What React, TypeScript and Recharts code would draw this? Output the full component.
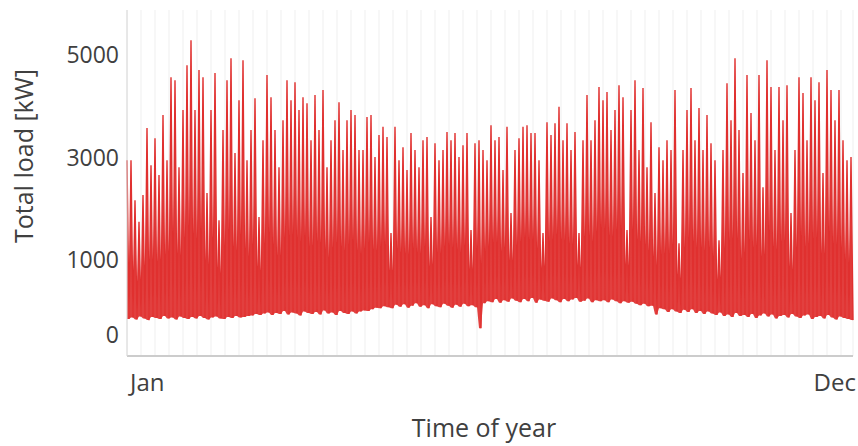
import { ComposedChart, Line, Area, XAxis, YAxis, CartesianGrid } from "recharts"

// daily-ish peaks and troughs of the hourly load (kW)
const peakLoad = [
  2950, 2950, 2170, 1750, 2270, 3580, 2850, 3380, 2660, 3830,
  2950, 4570, 4510, 2810, 3930, 4800, 5290, 3930, 4710, 4570,
  2310, 3930, 4650, 1780, 3540, 4510, 4940, 3090, 4120, 4900,
  2950, 3540, 4160, 1840, 3340, 4610, 4180, 3540, 2810, 3730,
  4510, 4120, 4470, 3930, 4180, 4060, 3340, 4220, 3540, 4320,
  2810, 3340, 3730, 4080, 3150, 3730, 3930, 3830, 3150, 3150,
  3790, 3830, 3010, 3440, 3600, 3400, 1530, 3600, 2950, 3200,
  2760, 3480, 3150, 2810, 3340, 3400, 1840, 3280, 2950, 3150,
  3500, 3340, 3480, 3010, 3240, 3480, 1590, 3280, 3340, 3150,
  2950, 3630, 3340, 3400, 2760, 3600, 1920, 3150, 3380, 3600,
  3630, 3480, 3480, 2950, 1530, 3690, 3440, 3670, 3990, 3340,
  3670, 3150, 3500, 1530, 3340, 4220, 3340, 3730, 4380, 4120,
  4280, 3540, 3930, 4410, 4180, 1590, 3930, 4510, 3150, 4360,
  2810, 3690, 2310, 3200, 2950, 3340, 3150, 4320, 1330, 3150,
  3930, 4360, 3340, 3970, 3150, 3830, 3280, 2950, 1390, 3150,
  4450, 3730, 4940, 3540, 2700, 4610, 3870, 3340, 4610, 2420,
  4900, 4380, 3150, 4380, 3730, 4410, 1920, 3150, 4570, 4260,
  3340, 4570, 4120, 4470, 2700, 4710, 4320, 3730, 4320, 3340,
  2950, 3010,
]

const troughLoad = [
  -150, -120, -160, -100, -140, -170, -110, -130, -150, -90,
  -140, -120, -160, -100, -130, -150, -110, -140, -90, -130,
  -160, -120, -100, -140, -150, -110, -130, -90, -120, -110,
  -90, -80, -50, -70, -40, -20, -70, -30, -50, 10,
  -60, -20, -40, -80, 0, -30, -50, -10, -60, 20,
  -40, -20, -70, 10, -30, -50, 0, -40, 0, 20,
  10, 40, 70, 60, 100, 80, 60, 130, 90, 140,
  70, 110, 160, 90, 120, 60, 140, 100, 80, 150,
  110, 70, 130, 90, 150, 100, 120, 80, -330, 160,
  200, 180, 240, 170, 220, 190, 250, 210, 180, 240,
  200, 260, 170, 230, 210, 190, 250, 220, 180, 240,
  200, 230, 260, 190, 210, 250, 180, 220, 200, 220,
  180, 230, 200, 160, 200, 170, 190, 150, 120, 150,
  100, 110, -60, 60, 40, -10, 40, 0, -30, 30,
  -10, 40, -30, 10, -50, 0, -40, -70, -20, -90,
  -60, -110, -30, -90, -70, -110, -50, -130, -80, -40,
  -100, -60, -140, -90, -70, -120, -50, -100, -130, -80,
  -60, -150, -110, -90, -140, -70, -120, -160, -100, -130,
  -150, -170,
]

const yTicks = [-460, 1000, 3000, 5000]
const yTickLabels = ["0", "1000", "3000", "5000"]
const edgeLabels = ["Jan", "Dec"]

// peak then trough for every pair of days; band fills each spike down to its own trough
const data = peakLoad.flatMap((p, i) => [
  { day: i * 2, load: p, band: [troughLoad[i], p] },
  { day: i * 2 + 1, load: troughLoad[i], band: [troughLoad[i], troughLoad[i]] },
])
const lastDay = data[data.length - 1].day
const weekTicks = Array.from({ length: Math.floor(lastDay / 7) + 1 }, (_, i) => i * 7).concat(lastDay)

const font = "'Open Sans', sans-serif"
const textColor = "#404040"
const red = "#e0302f"

function EdgeTick(props: any) {
  const { x, y, payload } = props
  if (payload.value === 0) {
    return (
      <text x={x + 3} y={y + 27} textAnchor="start" fontSize={24} fontFamily={font} fill={textColor}>
        {edgeLabels[0]}
      </text>
    )
  }
  if (payload.value === lastDay) {
    return (
      <text x={x + 3} y={y + 27} textAnchor="end" fontSize={24} fontFamily={font} fill={textColor}>
        {edgeLabels[1]}
      </text>
    )
  }
  return <g />
}

function XTitle(props: any) {
  const vb = props.viewBox || { x: 127, y: 356, width: 726, height: 50 }
  return (
    <text x={vb.x + vb.width / 2 - 6} y={vb.y + vb.height + 31} textAnchor="middle" fontSize={25} fontFamily={font} fill={textColor}>
      Time of year
    </text>
  )
}

function YTitle(props: any) {
  const vb = props.viewBox || { x: 0, y: 10, width: 127, height: 346 }
  const cx = vb.x + 33
  const cy = vb.y + vb.height / 2 - 27
  return (
    <text x={cx} y={cy} transform={`rotate(-90, ${cx}, ${cy})`} textAnchor="middle" fontSize={25} fontFamily={font} fill={textColor}>
      Total load [kW]
    </text>
  )
}

export default function App() {
  return (
    <div style={{ position: "absolute", left: 0, top: 0, width: 858, height: 446, background: "#ffffff" }}>
      <ComposedChart width={858} height={446} data={data} margin={{ top: 10, right: 5, bottom: 40, left: 0 }}>
        <CartesianGrid horizontal={false} stroke="#efefef" />
        <XAxis
          dataKey="day"
          type="number"
          domain={[0, lastDay]}
          ticks={weekTicks}
          interval={0}
          tick={<EdgeTick />}
          tickLine={false}
          axisLine={{ stroke: "#cccccc", strokeWidth: 2 }}
          height={50}
          label={{ content: <XTitle /> }}
        />
        <YAxis
          type="number"
          domain={[-870, 5880]}
          ticks={yTicks}
          interval={0}
          tickFormatter={(v: number) => yTickLabels[yTicks.indexOf(v)]}
          width={127}
          tickLine={false}
          axisLine={{ stroke: "#d8d8d8" }}
          tick={{ fill: textColor, fontSize: 23, fontFamily: font }}
          label={{ content: <YTitle /> }}
        />
        <Area
          dataKey="band"
          type="linear"
          stroke="none"
          fill={red}
          fillOpacity={0.92}
          dot={false}
          activeDot={false}
          isAnimationActive={false}
        />
        <Line
          dataKey="load"
          type="linear"
          stroke={red}
          strokeWidth={1.4}
          dot={false}
          activeDot={false}
          isAnimationActive={false}
        />
      </ComposedChart>
    </div>
  )
}
